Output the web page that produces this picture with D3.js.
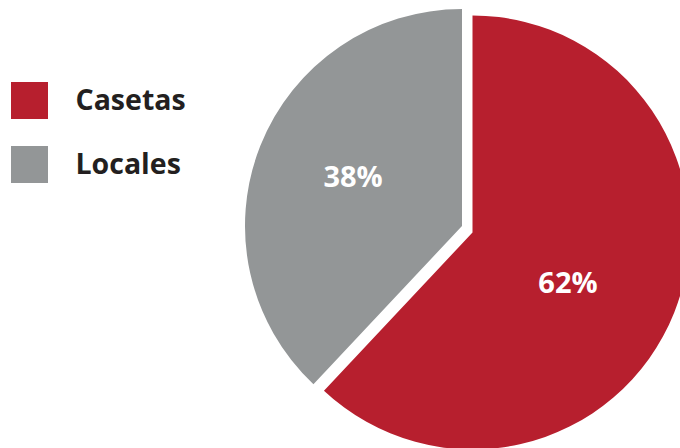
<!DOCTYPE html>
<html>
<head>
<meta charset="utf-8">
<script src="https://cdn.jsdelivr.net/npm/d3@7"></script>
<style>
  html, body { margin: 0; padding: 0; background: #ffffff; }
  svg { display: block; }
</style>
</head>
<body>
<svg id="chart" width="680" height="448"></svg>
<script>
// Share of sales points by type
const categories = ["Casetas", "Locales"];
const shares = [62, 38];
const sliceLabels = ["62%", "38%"];
const colors = ["#b71f2e", "#939697"];

const W = 680, H = 448;
const svg = d3.select("#chart");

const radius = 217;
const center = [462, 226];
// per-slice displacement (pulled-out wedge)
const sliceShift = [[10.5, 6.5], [0, 0]];
// fine placement of the value labels relative to the slice centroid
const labelShift = [[-15.5, 6], [2, -6]];

const pie = d3.pie().sort(null).value(d => d)(shares);
const arc = d3.arc().innerRadius(0).outerRadius(radius);
const labelArc = d3.arc().innerRadius(0).outerRadius(radius * 2 * 0.55);

const slices = svg.append("g")
  .attr("transform", `translate(${center[0]},${center[1]})`)
  .selectAll("g")
  .data(pie)
  .join("g")
  .attr("transform", (d, i) => `translate(${sliceShift[i][0]},${sliceShift[i][1]})`);

slices.append("path")
  .attr("d", arc)
  .attr("fill", (d, i) => colors[i]);

slices.append("text")
  .attr("transform", (d, i) => {
    const c = labelArc.centroid(d);
    return `translate(${c[0] + labelShift[i][0]},${c[1] + labelShift[i][1]})`;
  })
  .attr("text-anchor", "middle")
  .attr("dy", "0.36em")
  .attr("fill", "#ffffff")
  .style("font-family", "'Open Sans', sans-serif")
  .style("font-weight", 700)
  .style("font-size", "29px")
  .text((d, i) => sliceLabels[i]);

// legend
const legend = svg.append("g")
  .selectAll("g")
  .data(categories)
  .join("g")
  .attr("transform", (d, i) => `translate(11,${82 + i * 64})`);

legend.append("rect")
  .attr("width", 37)
  .attr("height", 37)
  .attr("fill", (d, i) => colors[i]);

legend.append("text")
  .attr("x", 64.5)
  .attr("y", 27.5)
  .attr("fill", "#231f20")
  .style("font-family", "'Open Sans', sans-serif")
  .style("font-weight", 700)
  .style("font-size", "28.5px")
  .text(d => d);
</script>
</body>
</html>
